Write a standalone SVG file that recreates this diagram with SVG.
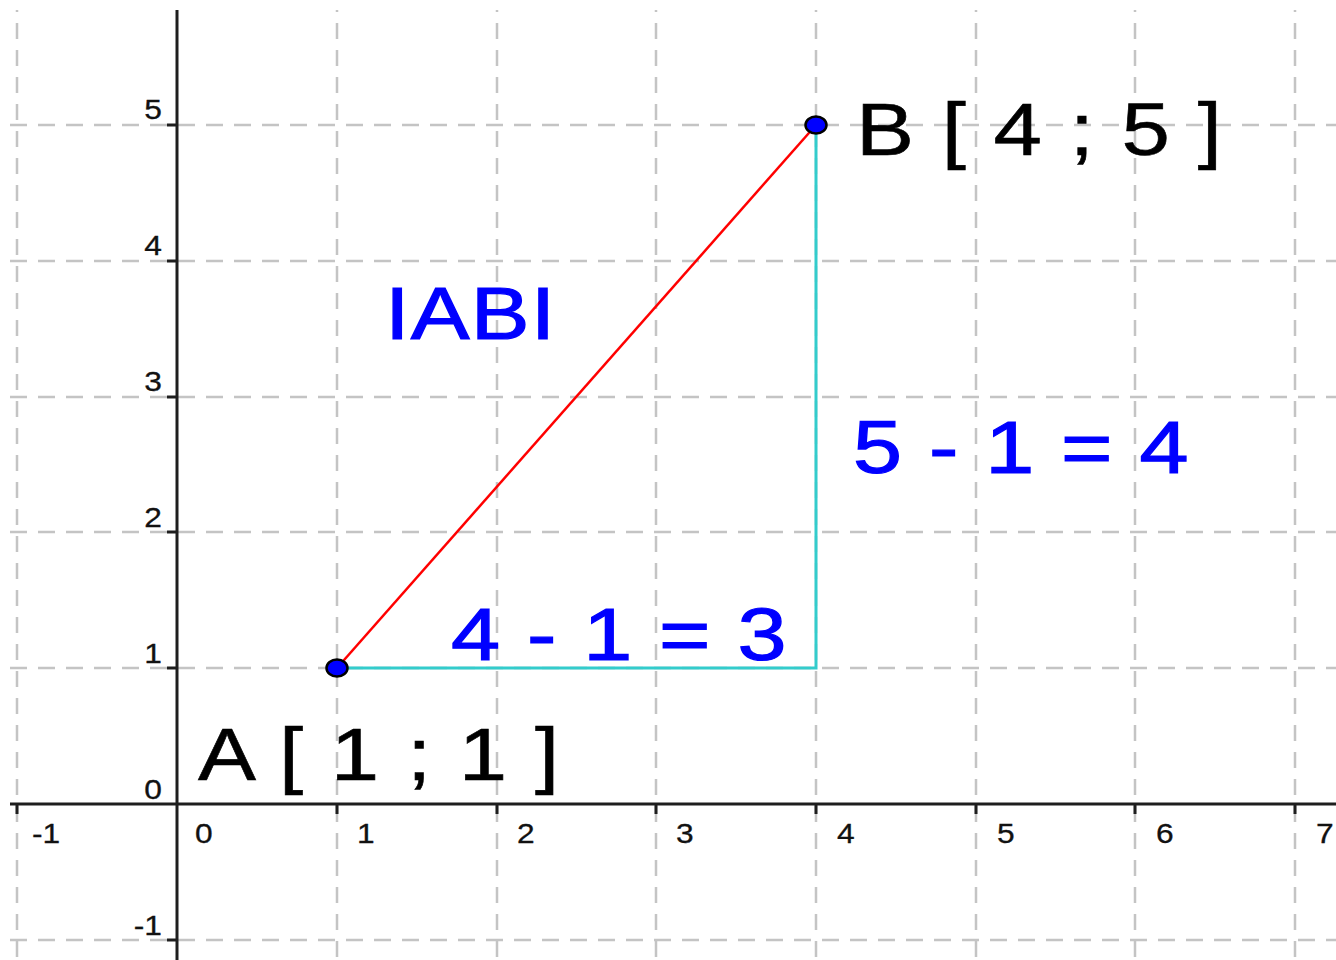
<svg xmlns="http://www.w3.org/2000/svg" width="1336" height="960" viewBox="0 0 1336 960">
<style>
.gv{stroke:#c4c4c4;stroke-width:2.5;stroke-dasharray:16 11;stroke-dashoffset:14;fill:none}
.gh{stroke:#c4c4c4;stroke-width:2.5;stroke-dasharray:17 11;fill:none}
.ax{stroke:#1e1e1e;stroke-width:3;fill:none}
.tk{stroke:#1e1e1e;stroke-width:3}
.lab{font-family:'Liberation Sans',Arial,sans-serif;font-size:27px;fill:#111;stroke:#111;stroke-width:0.3}
.big{font-family:'Liberation Sans',Arial,sans-serif;font-size:74px;fill:#000;stroke:#000;stroke-width:0.6;letter-spacing:1.5px}
.blue{font-family:'Liberation Sans',Arial,sans-serif;font-size:75px;fill:#0000ff;stroke:#0000ff;stroke-width:1.2;letter-spacing:1px}
.pt{fill:#0000ff;stroke:#000;stroke-width:2.5}
.leg{stroke:#33cccc;stroke-width:3;fill:none}
.seg{stroke:#ff0000;stroke-width:2.5;fill:none}
</style>
<rect width="1336" height="960" fill="#ffffff"/>
<g id="grid">
<line class="gv" x1="17" y1="10" x2="17" y2="960"/>
<line class="gv" x1="337" y1="10" x2="337" y2="960"/>
<line class="gv" x1="497" y1="10" x2="497" y2="960"/>
<line class="gv" x1="656" y1="10" x2="656" y2="960"/>
<line class="gv" x1="816" y1="10" x2="816" y2="960"/>
<line class="gv" x1="976" y1="10" x2="976" y2="960"/>
<line class="gv" x1="1135" y1="10" x2="1135" y2="960"/>
<line class="gv" x1="1295" y1="10" x2="1295" y2="960"/>
<line class="gh" x1="10" y1="125" x2="1336" y2="125"/>
<line class="gh" x1="10" y1="261" x2="1336" y2="261"/>
<line class="gh" x1="10" y1="397" x2="1336" y2="397"/>
<line class="gh" x1="10" y1="532" x2="1336" y2="532"/>
<line class="gh" x1="10" y1="668" x2="1336" y2="668"/>
<line class="gh" x1="10" y1="940" x2="1336" y2="940"/>
</g>
<g id="axes">
<line class="ax" x1="10" y1="804" x2="1336" y2="804"/>
<line class="ax" x1="177" y1="10" x2="177" y2="960"/>
<path class="tk" d="M17 804v10M337 804v10M497 804v10M656 804v10M816 804v10M976 804v10M1135 804v10M1295 804v10M167 125h10M167 261h10M167 397h10M167 532h10M167 668h10M167 940h10"/>
<g class="lab">
<text transform="translate(32,843) scale(1.176,1)">-1</text>
<text transform="translate(195,843) scale(1.176,1)">0</text>
<text transform="translate(357,843) scale(1.176,1)">1</text>
<text transform="translate(517,843) scale(1.176,1)">2</text>
<text transform="translate(676,843) scale(1.176,1)">3</text>
<text transform="translate(837,843) scale(1.176,1)">4</text>
<text transform="translate(997,843) scale(1.176,1)">5</text>
<text transform="translate(1156,843) scale(1.176,1)">6</text>
<text transform="translate(1316,843) scale(1.176,1)">7</text>
<g text-anchor="end">
<text transform="translate(162,119) scale(1.176,1)">5</text>
<text transform="translate(162,255) scale(1.176,1)">4</text>
<text transform="translate(162,391) scale(1.176,1)">3</text>
<text transform="translate(162,527) scale(1.176,1)">2</text>
<text transform="translate(162,663) scale(1.176,1)">1</text>
<text transform="translate(162,799) scale(1.176,1)">0</text>
<text transform="translate(162,935) scale(1.176,1)">-1</text>
</g>
</g>
</g>
<g id="connectors">
<polyline class="leg" points="337,668 816,668 816,125"/>
<line class="seg" x1="337" y1="668" x2="816" y2="125"/>
</g>
<g id="label-AB">
<text class="blue" transform="translate(385,339) scale(1.176,1)" letter-spacing="0">IABI</text>
</g>
<g id="label-dy">
<text class="blue" transform="translate(853,473) scale(1.176,1)">5 - 1 = 4</text>
</g>
<g id="label-dx">
<text class="blue" transform="translate(451,660) scale(1.176,1)">4 - 1 = 3</text>
</g>
<g id="node-A">
<ellipse class="pt" cx="337" cy="668" rx="10.5" ry="8.5"/>
<text class="big" transform="translate(198,780) scale(1.176,1)">A [ 1 ; 1 ]</text>
</g>
<g id="node-B">
<ellipse class="pt" cx="816" cy="125" rx="10.5" ry="8.5"/>
<text class="big" transform="translate(856,155) scale(1.176,1)">B [ 4 ; 5 ]</text>
</g>
</svg>
